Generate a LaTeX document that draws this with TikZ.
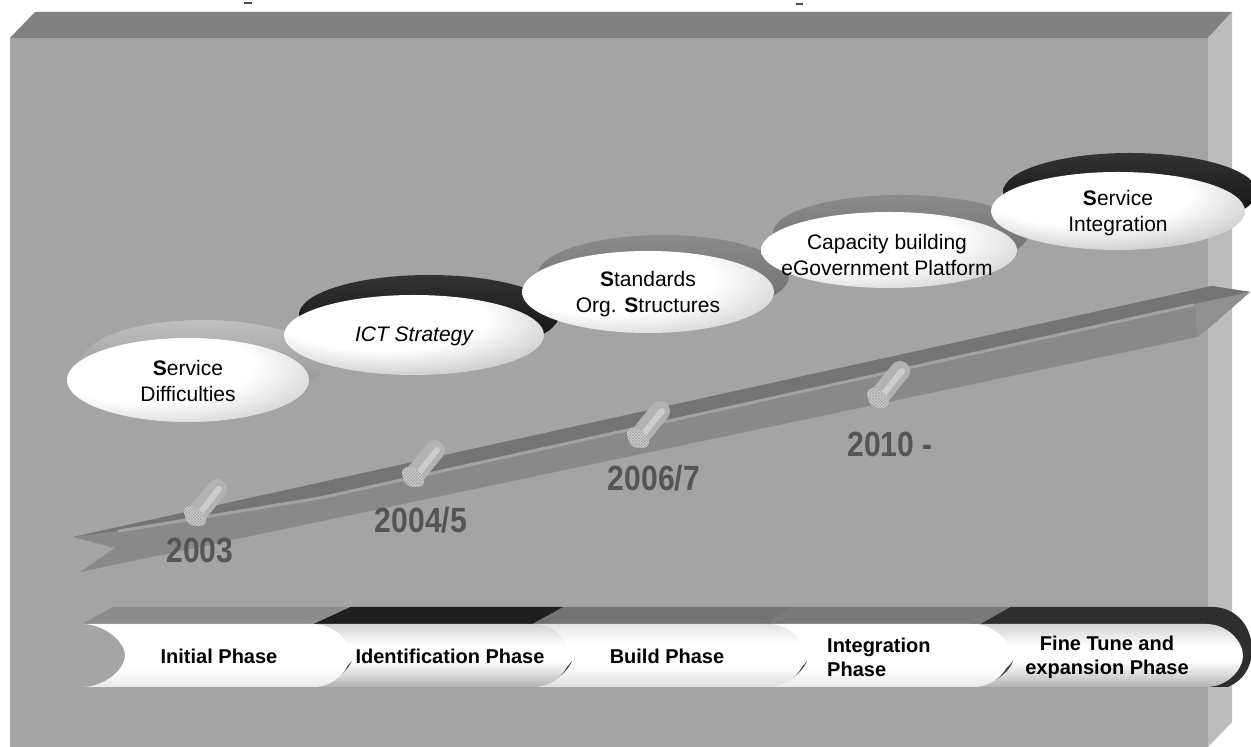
\documentclass[tikz,border=0pt]{standalone}
\usepackage{fontspec}
\setmainfont{Liberation Sans}
\newfontfamily\yearfont[FakeStretch=0.86]{Liberation Sans}
\usetikzlibrary{patterns}
\definecolor{slabtop}{HTML}{808080}
\definecolor{slabfront}{HTML}{A4A4A4}
\definecolor{slabside}{HTML}{BCBCBC}
\definecolor{bandmid}{HTML}{898989}
\definecolor{bandtop}{HTML}{747474}
\definecolor{bandhl}{HTML}{A2A2A2}
\definecolor{bandend}{HTML}{909090}
\definecolor{pillbody}{HTML}{B2B2B2}
\definecolor{pillface}{HTML}{D2D2D2}
\definecolor{yeargray}{HTML}{555555}
\definecolor{rimgray}{HTML}{7E7E7E}
\pgfdeclareradialshading{disc}{\pgfpoint{-12bp}{12bp}}{color(0bp)=(white); color(22bp)=(white); color(52bp)=(gray!70!white); color(80bp)=(gray!70!white)}
\pgfdeclareradialshading{discdark}{\pgfpoint{-8bp}{14bp}}{color(0bp)=(white); color(20bp)=(white); color(55bp)=(gray!95); color(80bp)=(gray!95)}
\pgfdeclareverticalshading{segdark}{100bp}{color(0bp)=(black!62); color(12bp)=(black!50); color(35bp)=(gray!30); color(45bp)=(white); color(58bp)=(white); color(80bp)=(gray!45); color(100bp)=(gray!75)}
\pgfdeclareverticalshading{seglight}{100bp}{color(0bp)=(gray!50); color(18bp)=(gray!25); color(40bp)=(white); color(70bp)=(white); color(90bp)=(gray!12); color(100bp)=(gray!20)}
\pgfdeclareverticalshading{segmid}{100bp}{color(0bp)=(gray!65); color(20bp)=(gray!35); color(42bp)=(white); color(60bp)=(white); color(85bp)=(gray!35); color(100bp)=(gray!50)}
\begin{document}
\begin{tikzpicture}[x=1pt,y=1pt,
  etext/.style={align=center, font=\fontsize{21}{26}\selectfont, inner sep=0},
  ptext/.style={align=center, font=\fontsize{20}{24}\selectfont\bfseries, inner sep=0},
  yr/.style={font=\yearfont\bfseries\fontsize{35}{35}\selectfont, text=yeargray, inner sep=0},
  disk/.style={shading=disc},
  diskdark/.style={shading=discdark},
  darkrim/.style={top color=black!80, bottom color=black!95},
  greyrim/.style={top color=rimgray!90!white, bottom color=rimgray!85!black},
  lightrim/.style={top color=slabfront!70!white, bottom color=slabfront!85!black},
  crescent/.style={fill=black!75},
]
\useasboundingbox (0,0) rectangle (1251,747);
\fill[white] (0,0) rectangle (1251,747);
% tiny marks at top
\draw[black!70, line width=1.5pt] (244,744) -- (252,744);
\draw[black!70, line width=1.5pt] (796,743) -- (803,743);
% slab
\fill[slabtop] (10,709) -- (35,735) -- (1232,735) -- (1208,709) -- cycle;
\fill[slabfront] (10,0) rectangle (1208,709);
\fill[slabside] (1208,709) -- (1232,735) -- (1232,25) -- (1208,0) -- cycle;

% timeline band
\fill[bandmid] (73,210) -- (1212,461) -- (1250,455) -- (1210,420) -- (1197,410) -- (80,175) -- (115,199) -- cycle;
\fill[bandtop] (73,210) -- (1212,461) -- (1250,455) -- (1195,443) -- (320,249) -- (117,216) -- cycle;
\fill[bandend] (1195,443) -- (1250,455) -- (1210,420) -- (1197,410) -- cycle;
\draw[bandhl, line width=3pt, line cap=round] (119,216) -- (320,249) -- (1193,442);

% pills
\foreach \fx/\fy in {195/231, 413/270, 638/309, 878/349}{
  \draw[pillbody, line width=20pt, line cap=round] (\fx,\fy) -- ++(22,27);
  \draw[white, opacity=0.35, line width=6pt, line cap=round] (\fx+4,\fy+2) -- ++(20,25);
  \fill[pillface, postaction={pattern=crosshatch, pattern color=gray!70}] (\fx,\fy) ellipse [x radius=8, y radius=12.5, rotate=51];
}

% year labels
\node[yr] (y1) at (200,197) {2003};
\node[yr] (y2) at (421,227) {2004/5};
\node[yr] (y3) at (654,269) {2006/7};
\node[yr] (y4) at (890,303) {2010 -};

% ellipses
\path[lightrim] (203,385) ellipse [x radius=121, y radius=42];
\path[disk] (188,367) ellipse [x radius=121, y radius=42];
\node[etext] (sd) at (188,366) {\textbf{S}ervice\\Difficulties};

\path[darkrim] (429,432) ellipse [x radius=130, y radius=40];
\path[diskdark] (414,412) ellipse [x radius=130, y radius=40];
\node[etext, font=\fontsize{21}{26}\selectfont\itshape] (ict) at (414,411) {ICT Strategy};

\path[greyrim] (663,471) ellipse [x radius=126, y radius=41];
\path[disk] (648,455) ellipse [x radius=126, y radius=41];
\node[etext] (std) at (648,453) {\textbf{S}tandards\\Org. \textbf{S}tructures};

\path[greyrim] (901,514) ellipse [x radius=128, y radius=38];
\path[disk] (889,497) ellipse [x radius=128, y radius=38];
\node[etext] (cap) at (887,492) {Capacity building\\eGovernment Platform};

\path[darkrim] (1130,555) ellipse [x radius=127, y radius=39];
\path[diskdark] (1118,536) ellipse [x radius=127, y radius=39];
\node[etext] (si) at (1118,534) {\textbf{S}ervice\\Integration};

% phase bar: top faces
\fill[black!82] (980,123) -- (1010,140) -- (1212,140) .. controls (1238,140) and (1253,118) .. (1252,95) .. controls (1251,78) and (1242,66) .. (1228,60) -- (1200,60) -- (1200,123) -- cycle;
\fill[black!52] (767,123) -- (793,140) -- (1010,140) -- (980,123) -- cycle;
\fill[black!55] (532,123) -- (563,140) -- (793,140) -- (767,123) -- cycle;
\fill[black!88] (313,123) -- (350,140) -- (563,140) -- (532,123) -- cycle;
\fill[black!45] (82,123) -- (113,140) -- (350,140) -- (313,123) -- cycle;

% phase bar: front faces (right to left)
\path[shading=segdark]
  (975,123) -- (1206,123) .. controls (1228,123) and (1243,105) .. (1243,91.5) .. controls (1243,78) and (1228,60) .. (1206,60) -- (975,60) -- cycle;
\fill[crescent] (968,60) .. controls (990,61) and (1008,72) .. (1013,86) .. controls (1004,74) and (990,66) .. (968,60) -- cycle;
\path[shading=seglight]
  (770,123) -- (973,123) .. controls (995,123) and (1010,105) .. (1010,91.5) .. controls (1010,78) and (995,60) .. (973,60) -- (770,60) -- cycle;
\fill[crescent] (765,60) .. controls (785,61) and (801,72) .. (807,86) .. controls (798,74) and (785,66) .. (765,60) -- cycle;
\path[shading=segmid]
  (535,123) -- (768,123) .. controls (790,123) and (805,105) .. (805,91.5) .. controls (805,78) and (790,60) .. (768,60) -- (535,60) -- cycle;
\fill[crescent] (530,60) .. controls (550,61) and (566,72) .. (572,86) .. controls (563,74) and (550,66) .. (530,60) -- cycle;
\path[shading=segdark]
  (310,123) -- (533,123) .. controls (555,123) and (570,105) .. (570,91.5) .. controls (570,78) and (555,60) .. (533,60) -- (310,60) -- cycle;
\fill[crescent] (308,60) .. controls (328,61) and (345,72) .. (352,86) .. controls (342,74) and (328,66) .. (308,60) -- cycle;
\path[shading=seglight]
  (82,123) .. controls (105,123) and (125,105) .. (125,91.5) .. controls (125,78) and (105,60) .. (82,60) -- (313,60) .. controls (335,60) and (350,78) .. (350,91.5) .. controls (350,105) and (335,123) .. (313,123) -- cycle;

% phase labels
\node[ptext] (p1) at (219,91) {Initial Phase};
\node[ptext] (p2) at (450,91) {Identification Phase};
\node[ptext] (p3) at (667,91) {Build Phase};
\node[ptext, align=left, anchor=west] (p4) at (827,90) {Integration\\Phase};
\node[ptext] (p5) at (1107,90) {Fine Tune and\\expansion Phase};
\end{tikzpicture}
\end{document}
